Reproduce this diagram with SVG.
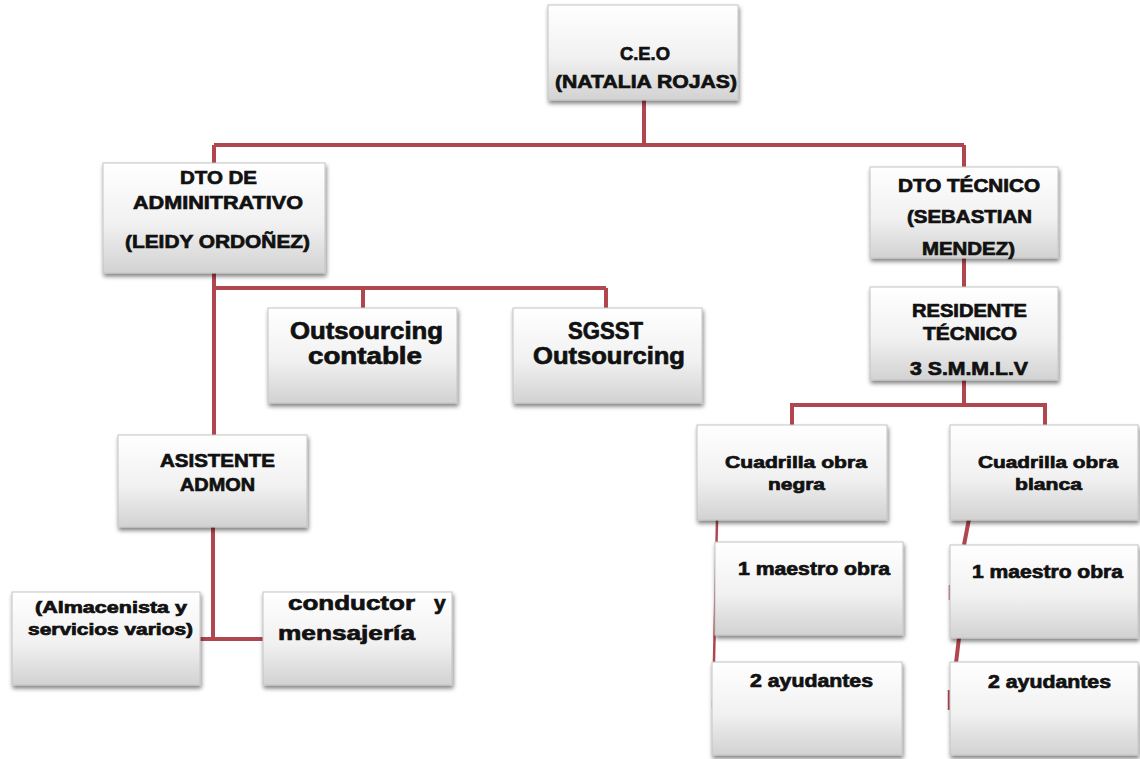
<svg xmlns="http://www.w3.org/2000/svg" width="1140" height="759" viewBox="0 0 1140 759">
<defs>
<linearGradient id="boxg" x1="0" y1="0" x2="0" y2="1">
<stop offset="0" stop-color="#ffffff"/>
<stop offset="0.55" stop-color="#f1f1f1"/>
<stop offset="1" stop-color="#d2d2d2"/>
</linearGradient>
<filter id="sh" x="-10%" y="-10%" width="125%" height="130%">
<feGaussianBlur in="SourceAlpha" stdDeviation="2"/>
<feOffset dx="1" dy="3" result="b"/>
<feComponentTransfer><feFuncA type="linear" slope="0.5"/></feComponentTransfer>
<feMerge><feMergeNode/><feMergeNode in="SourceGraphic"/></feMerge>
</filter>
</defs>
<style>
.box{fill:url(#boxg);stroke:#c4c4c4;stroke-width:1;filter:url(#sh)}
.t{font-family:"Liberation Sans",Arial,sans-serif;font-weight:bold;fill:#111;stroke:#111;stroke-width:0.7;text-anchor:start}
.c{fill:none;stroke:#b0464e;stroke-width:4;stroke-linecap:butt}
.thin{fill:none;stroke:#b0464e;stroke-width:2.5}
</style>
<rect width="1140" height="759" fill="#ffffff"/>
<g id="connectors">
<path class="c" d="M644 100 V145 M214 145 H964 M214 145 V163 M964 145 V167"/>
<path class="c" d="M214 273 V435 M214 288 H606 M363 288 V308 M606 288 V308"/>
<path class="c" d="M213 527 V639 M200 639 H263"/>
<path class="c" d="M964 258 V287 M964 380 V405 M792 405 H1045 M792 403 V425 M1045 403 V425"/>
<path class="thin" d="M717 520 L713 707"/>
<path class="c" d="M969 519 L964 545 M959 638 L956 663"/>
<path class="thin" d="M950 585 V600 M949 690 V710"/>
</g>
<g id="ceo"><rect class="box" x="548" y="5" width="190" height="95"/>
<text class="t" x="620" y="60" font-size="19" textLength="50" lengthAdjust="spacingAndGlyphs">C.E.O</text>
<text class="t" x="555" y="88" font-size="19" textLength="182" lengthAdjust="spacingAndGlyphs">(NATALIA ROJAS)</text></g>
<g id="dto-admin"><rect class="box" x="103" y="163" width="222" height="110"/>
<text class="t" x="180" y="184" font-size="19" textLength="77" lengthAdjust="spacingAndGlyphs">DTO DE</text>
<text class="t" x="133" y="209" font-size="19" textLength="170" lengthAdjust="spacingAndGlyphs">ADMINITRATIVO</text>
<text class="t" x="125" y="248" font-size="19" textLength="185" lengthAdjust="spacingAndGlyphs">(LEIDY ORDOÑEZ)</text></g>
<g id="outsourcing-contable"><rect class="box" x="268" y="308" width="189" height="95"/>
<text class="t" x="290" y="339" font-size="23" textLength="153" lengthAdjust="spacingAndGlyphs">Outsourcing</text>
<text class="t" x="308" y="364" font-size="23" textLength="114" lengthAdjust="spacingAndGlyphs">contable</text></g>
<g id="sgsst"><rect class="box" x="513" y="308" width="189" height="95"/>
<text class="t" x="568" y="339" font-size="23" textLength="75" lengthAdjust="spacingAndGlyphs">SGSST</text>
<text class="t" x="533" y="364" font-size="23" textLength="152" lengthAdjust="spacingAndGlyphs">Outsourcing</text></g>
<g id="asistente"><rect class="box" x="118" y="435" width="189" height="92"/>
<text class="t" x="160" y="467" font-size="18" textLength="115" lengthAdjust="spacingAndGlyphs">ASISTENTE</text>
<text class="t" x="180" y="491" font-size="18" textLength="75" lengthAdjust="spacingAndGlyphs">ADMON</text></g>
<g id="almacenista"><rect class="box" x="12" y="592" width="188" height="93"/>
<text class="t" x="35" y="613" font-size="16" textLength="152" lengthAdjust="spacingAndGlyphs">(Almacenista y</text>
<text class="t" x="28" y="635" font-size="16" textLength="165" lengthAdjust="spacingAndGlyphs">servicios varios)</text></g>
<g id="conductor"><rect class="box" x="263" y="592" width="189" height="93"/>
<text class="t" x="288" y="610" font-size="21" textLength="127" lengthAdjust="spacingAndGlyphs">conductor</text>
<text class="t" x="434" y="610" font-size="21">y</text>
<text class="t" x="278" y="640" font-size="21" textLength="137" lengthAdjust="spacingAndGlyphs">mensajería</text></g>
<g id="dto-tecnico"><rect class="box" x="870" y="167" width="188" height="91"/>
<text class="t" x="898" y="192" font-size="18" textLength="142" lengthAdjust="spacingAndGlyphs">DTO TÉCNICO</text>
<text class="t" x="907" y="223" font-size="18" textLength="125" lengthAdjust="spacingAndGlyphs">(SEBASTIAN</text>
<text class="t" x="922" y="255" font-size="18" textLength="93" lengthAdjust="spacingAndGlyphs">MENDEZ)</text></g>
<g id="residente"><rect class="box" x="870" y="287" width="188" height="93"/>
<text class="t" x="912" y="317" font-size="18" textLength="115" lengthAdjust="spacingAndGlyphs">RESIDENTE</text>
<text class="t" x="923" y="340" font-size="18" textLength="94" lengthAdjust="spacingAndGlyphs">TÉCNICO</text>
<text class="t" x="910" y="375" font-size="18" textLength="118" lengthAdjust="spacingAndGlyphs">3 S.M.M.L.V</text></g>
<g id="cuadrilla-negra"><rect class="box" x="697" y="425" width="190" height="95"/>
<text class="t" x="725" y="468" font-size="17" textLength="142" lengthAdjust="spacingAndGlyphs">Cuadrilla obra</text>
<text class="t" x="768" y="490" font-size="17" textLength="57" lengthAdjust="spacingAndGlyphs">negra</text></g>
<g id="cuadrilla-blanca"><rect class="box" x="950" y="425" width="188" height="95"/>
<text class="t" x="978" y="468" font-size="17" textLength="140" lengthAdjust="spacingAndGlyphs">Cuadrilla obra</text>
<text class="t" x="1015" y="490" font-size="17" textLength="67" lengthAdjust="spacingAndGlyphs">blanca</text></g>
<g id="maestro-1"><rect class="box" x="715" y="542" width="188" height="93"/>
<text class="t" x="738" y="575" font-size="18" textLength="152" lengthAdjust="spacingAndGlyphs">1 maestro obra</text></g>
<g id="ayudantes-1"><rect class="box" x="712" y="662" width="190" height="93"/>
<text class="t" x="750" y="687" font-size="18" textLength="123" lengthAdjust="spacingAndGlyphs">2 ayudantes</text></g>
<g id="maestro-2"><rect class="box" x="950" y="545" width="188" height="93"/>
<text class="t" x="972" y="578" font-size="18" textLength="151" lengthAdjust="spacingAndGlyphs">1 maestro obra</text></g>
<g id="ayudantes-2"><rect class="box" x="950" y="662" width="188" height="93"/>
<text class="t" x="988" y="688" font-size="18" textLength="123" lengthAdjust="spacingAndGlyphs">2 ayudantes</text></g>
</svg>
